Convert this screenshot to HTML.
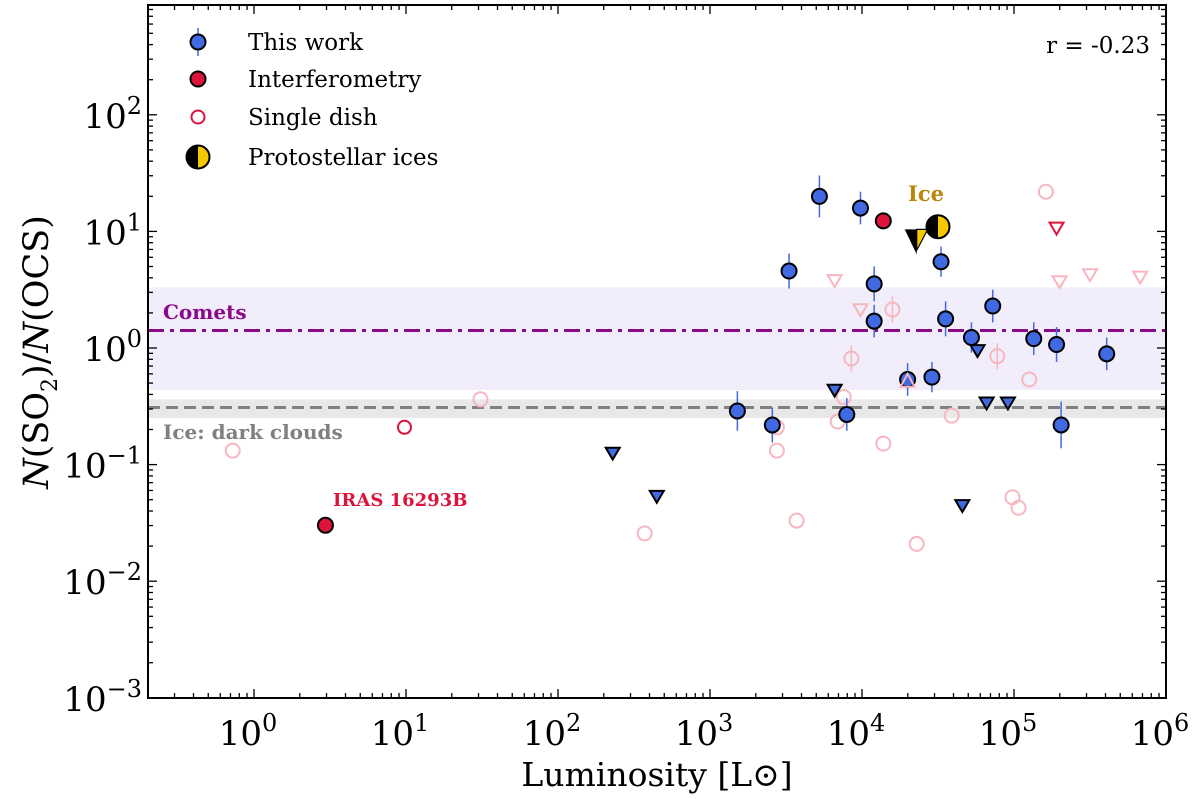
<!DOCTYPE html>
<html><head><meta charset="utf-8"><style>
body{margin:0;background:#fff;width:1200px;height:794px;overflow:hidden}
svg text{font-family:"DejaVu Serif","Liberation Serif",serif}
</style></head><body>
<svg id="c" width="1200" height="794" xmlns="http://www.w3.org/2000/svg"></svg>
<script>
const thisWorkL=[3.18,3.41,3.52,3.72,3.99,4.08,4.08,3.90,4.30,4.46,4.52,4.55,4.72,4.86,5.13,5.28,5.31,5.61];
const thisWorkR=[-0.54,-0.66,0.66,1.30,1.20,0.55,0.23,-0.57,-0.27,-0.25,0.74,0.25,0.09,0.36,0.08,0.03,-0.66,-0.05];
const thisWorkErr=[0.17,0.15,0.15,0.18,0.14,0.15,0.14,0.14,0.14,0.13,0.13,0.15,0.13,0.14,0.14,0.15,0.2,0.14];
const limL=[2.36,2.65,3.82,4.76,4.82,4.96,4.66];
const limR=[-0.90,-1.27,-0.36,-0.02,-0.47,-0.47,-1.35];
const interL=[0.47,4.14];
const interR=[-1.52,1.09];
const interLimL=[5.28], interLimR=[1.03];
const interOpenL=[0.99], interOpenR=[-0.68];
const sdL=[-0.14,1.49,2.57,3.44,3.44,3.57,3.84,3.88,3.93,4.14,4.20,4.36,4.59,4.89,5.10,4.99,5.03,5.21,4.46];
const sdR=[-0.88,-0.44,-1.59,-0.88,-0.68,-1.48,-0.63,-0.42,-0.09,-0.82,0.33,-1.68,-0.58,-0.07,-0.27,-1.28,-1.37,1.34,-0.25];
const sdLimL=[3.82,3.99,5.30,5.50,5.83];
const sdLimR=[0.58,0.33,0.57,0.63,0.61];
const sdErrL=[4.20,3.93,4.89], sdErrR=[0.33,-0.09,-0.07];
const sdUpL=[4.30], sdUpR=[-0.29];
const iceL=[4.50], iceR=[1.04];
const iceLimL=[4.36], iceLimR=[0.94];
const xTicks=[0,1,2,3,4,5,6];
const yTicks=[-3,-2,-1,0,1,2];
const cometBand=[0.52,-0.36], cometLine=0.15;
const cloudBand=[-0.44,-0.60], cloudLine=-0.51;

const NS="http://www.w3.org/2000/svg", svg=document.getElementById('c');
const L=148,R=1166,T=5,B=698;
const X=v=>254+v*152, Y=v=>348-v*116.6;
function el(t,a,p){const e=document.createElementNS(NS,t);for(const k in a)e.setAttribute(k,a[k]);(p||svg).appendChild(e);return e;}
function rect(y1,y2,f,n){const e=el('rect',{x:L,y:Y(y1),width:R-L,height:Y(y2)-Y(y1),fill:f});

}
rect(cometBand[0],cometBand[1],'#f1edfa','comets-band');
rect(cloudBand[0],cloudBand[1],'#e8e8e8','dark-clouds-band');
let ln=el('line',{x1:L,x2:R,y1:Y(cometLine),y2:Y(cometLine),stroke:'#8b0a8b','stroke-width':3,'stroke-dasharray':'16,6,4,6'});


ln=el('line',{x1:L,x2:R,y1:Y(cloudLine),y2:Y(cloudLine),stroke:'#808080','stroke-width':3,'stroke-dasharray':'12,6'});


function circ(cx,cy,r,f,s,sw,n){const e=el('circle',{cx,cy,r,fill:f,stroke:s,'stroke-width':sw});

return e;}
function tri(cx,cy,s,f,st,sw,n){const e=el('polygon',{points:`${cx-s},${cy-s*0.75} ${cx+s},${cy-s*0.75} ${cx},${cy+s*0.95}`,fill:f,stroke:st,'stroke-width':sw});

return e;}
function vline(x,y1,y2,c,n){const b=el('line',{x1:x,x2:x,y1,y2,stroke:c,'stroke-width':1.5});

}
sdErrL.forEach((v,i)=>vline(X(v),Y(sdErrR[i])-13,Y(sdErrR[i])+13,'#f7b6c0','single-dish-error-bar'));
sdL.forEach((v,i)=>circ(X(v),Y(sdR[i]),7,'none','#f7b6c0',2,'single-dish-point'));
sdLimL.forEach((v,i)=>tri(X(v),Y(sdLimR[i]),7,'none','#f7b6c0',2,'single-dish-limit'));
thisWorkL.forEach((v,i)=>{const x=X(v),y=Y(thisWorkR[i]),e=thisWorkErr[i]*116.6;
vline(x,y-e,y+e,'#4169e1','error-bar');
circ(x,y,7.5,'#4169e1','#000',2,'this-work-point');});
sdUpL.forEach((v,i)=>{const x=X(v),y=Y(sdUpR[i]);const p=el('polygon',{points:`${x-7},${y+5} ${x+7},${y+5} ${x},${y-8}`,fill:'none',stroke:'#f7b6c0','stroke-width':2});

});
limL.forEach((v,i)=>tri(X(v),Y(limR[i]),7,'#4169e1','#000',2,'this-work-limit'));
interL.forEach((v,i)=>circ(X(v),Y(interR[i]),7.5,'#dc143c','#000',2,'interferometry-point'));
interOpenL.forEach((v,i)=>circ(X(v),Y(interOpenR[i]),6.5,'none','#dc143c',2,'interferometry-open-point'));
interLimL.forEach((v,i)=>tri(X(v),Y(interLimR[i]),7,'none','#dc143c',2,'interferometry-limit'));
iceLimL.forEach((v,i)=>{const x=X(v),y=Y(iceLimR[i]);
const p=el('polygon',{points:`${x-12},${y-9} ${x},${y-9} ${x},${y+16}`,fill:'#000'});


const q=el('polygon',{points:`${x},${y-9} ${x+11},${y-9} ${x},${y+12}`,fill:'#f5c800',stroke:'#000','stroke-width':1.2});

});
function half(x,y,r,n){circ(x,y,r,'#f5c800','#000',2,n);
const p=el('path',{d:`M${x},${y-r} A${r},${r} 0 0 0 ${x},${y+r} Z`,fill:'#000'});

}
iceL.forEach((v,i)=>half(X(v),Y(iceR[i]),11.5,'ice-point'));
const fr=el('rect',{x:L,y:T,width:R-L,height:B-T,fill:'none',stroke:'#000','stroke-width':2});


for(let d=-1;d<=6;d++)for(let m=1;m<10;m++){const v=d+Math.log10(m);const x=X(v);if(x<L||x>R)continue;const len=m==1?9:5;
el('line',{x1:x,x2:x,y1:B,y2:B-len,stroke:'#000','stroke-width':1.3});el('line',{x1:x,x2:x,y1:T,y2:T+len,stroke:'#000','stroke-width':1.3});}
for(let d=-3;d<=2;d++)for(let m=1;m<10;m++){const v=d+Math.log10(m);const y=Y(v);if(y<T||y>B)continue;const len=m==1?9:5;
el('line',{x1:L,x2:L+len,y1:y,y2:y,stroke:'#000','stroke-width':1.3});el('line',{x1:R,x2:R-len,y1:y,y2:y,stroke:'#000','stroke-width':1.3});}
xTicks.forEach(v=>{const t=el('text',{x:X(v)-6,y:745,'font-size':34,'text-anchor':'middle'});t.innerHTML=`10<tspan dy="-14" font-size="24">${v}</tspan>`;

});
yTicks.forEach(v=>{const t=el('text',{x:142,y:Y(v)+13,'font-size':34,'text-anchor':'end'});t.innerHTML=`10<tspan dy="-14" font-size="24">${v<0?'\u2212'+(-v):v}</tspan>`;

});
function txt(x,y,s,a,n){const t=el('text',Object.assign({x,y},a));t.textContent=s;

return t;}
txt(657,786,'Luminosity [L\u2299]',{'font-size':33,'text-anchor':'middle'},'x-axis-title');
const yt=el('text',{x:0,y:0,'font-size':35,'text-anchor':'middle',transform:'translate(48,352) rotate(-90)','font-family':'DejaVu Sans,sans-serif'});
yt.innerHTML='<tspan font-style="italic">N</tspan>(SO<tspan font-size="22" dy="9">2</tspan><tspan dy="-9">)/</tspan><tspan font-style="italic">N</tspan>(OCS)';


txt(163,319,'Comets',{'font-size':20,'font-weight':'bold',fill:'#8b0a8b'},'comets-label');
txt(163,439,'Ice: dark clouds',{'font-size':20,'font-weight':'bold',fill:'#808080'},'dark-clouds-label');
txt(333,506,'IRAS 16293B',{'font-size':18,'font-weight':'bold',fill:'#dc143c'},'iras-label');
txt(908,201,'Ice',{'font-size':21,'font-weight':'bold',fill:'#b8860b'},'ice-label');
txt(1150,53,'r = -0.23',{'font-size':23,'text-anchor':'end'},'correlation-label');
const lg=['This work','Interferometry','Single dish','Protostellar ices'];
const ly=[42,79,117,157];
vline(198,28,56,'#4169e1','legend-error-bar');
circ(198,42,7.5,'#4169e1','#000',2,'legend-this-work-marker');
circ(198,79,7.5,'#dc143c','#000',2,'legend-interferometry-marker');
circ(198,117,6.5,'none','#dc143c',2,'legend-single-dish-marker');
half(198,157,11.5,'legend-ices-marker');
lg.forEach((s,i)=>txt(248,ly[i]+8,s,{'font-size':23},'legend-entry'));
</script>
</body></html>
